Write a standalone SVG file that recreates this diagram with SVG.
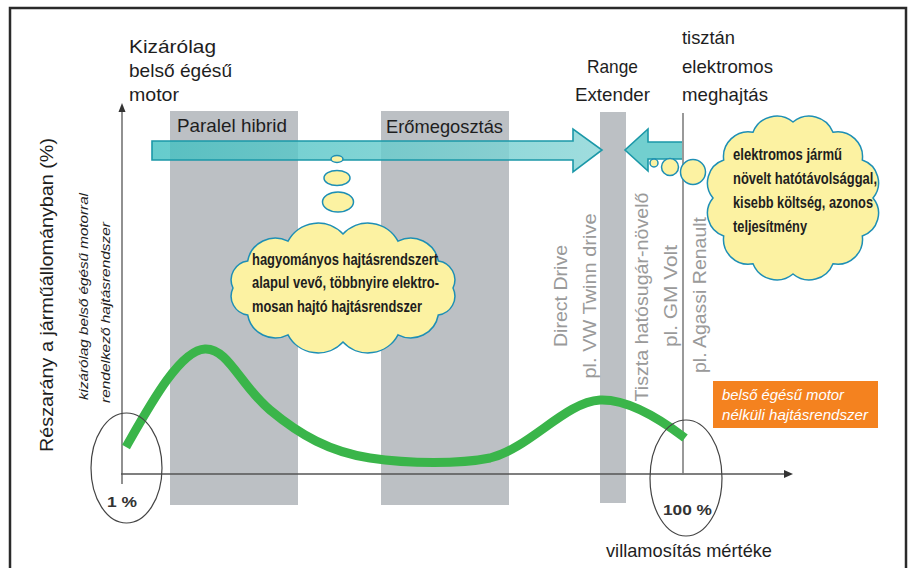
<svg xmlns="http://www.w3.org/2000/svg" width="912" height="568" viewBox="0 0 912 568">
<defs>
<style>
.lbl{font-family:"Liberation Sans",Arial,sans-serif;fill:#1e1e1e;font-size:19px}
.grey{font-family:"Liberation Sans",Arial,sans-serif;fill:#9a9a9a;font-size:19px;text-anchor:middle}
.cloudtxt{font-family:"Liberation Sans Narrow","Liberation Sans",Arial,sans-serif;fill:#1e1e1e;font-size:16px;font-weight:bold}
.ital{font-family:"Liberation Sans",Arial,sans-serif;fill:#1e1e1e;font-size:13.5px;font-style:italic}
.pct{font-family:"Liberation Sans",Arial,sans-serif;fill:#333;font-size:15px;font-weight:bold}
.band{fill:#bcc0c4}
.cloud{fill:#fcf2a2;stroke:#1e8fb5;stroke-width:1.5}
.axis{stroke:#555;stroke-width:1.3;fill:none}
.arrow{stroke:#1b98a8;stroke-width:1.6}
</style>
<linearGradient id="ag" x1="0" y1="0" x2="1" y2="0">
<stop offset="0" stop-color="#3fbfc0" stop-opacity="0.8"/>
<stop offset="1" stop-color="#8fd7d8" stop-opacity="0.85"/>
</linearGradient>
</defs>
<rect x="0" y="0" width="912" height="568" fill="#fff"/>
<rect x="10" y="8" width="896" height="580" fill="none" stroke="#2a2a2a" stroke-width="2.5"/>

<g id="bands">
<rect class="band" x="170" y="111" width="128" height="394"/>
<rect class="band" x="381" y="111" width="128" height="394"/>
<rect class="band" x="600" y="112" width="26" height="391"/>
</g>

<g id="connectors">
<line class="axis" x1="122" y1="110" x2="122" y2="484"/>
<polygon points="122,103 118.5,112 125.5,112" fill="#333"/>
<line class="axis" x1="121" y1="474" x2="786" y2="474"/>
<polygon points="793,474 784,470 784,478" fill="#333"/>
<line x1="683" y1="113" x2="683" y2="475" stroke="#777" stroke-width="1.5"/>
<polygon class="arrow" fill="url(#ag)" points="152,141 573,141 573,129 602,150 573,172 573,160 152,160"/>
<path class="arrow" fill="#72cfcf" d="M682,142 L648,142 L648,129 L625,150 L648,171 L648,159 L682,159"/>
<path d="M126,447 C150,405 180,350 205,349 C228,348 240,385 270,410 C300,435 330,452 370,458 C410,464 460,464 490,458 C530,448 565,402 600,400 C625,399 655,415 685,438" fill="none" stroke="#3ab54a" stroke-width="9"/>
</g>

<g id="title-left">
<text class="lbl" x="129" y="53" textLength="87" lengthAdjust="spacingAndGlyphs">Kizárólag</text>
<text class="lbl" x="129" y="77" textLength="103" lengthAdjust="spacingAndGlyphs">belső égésű</text>
<text class="lbl" x="129" y="101" textLength="50" lengthAdjust="spacingAndGlyphs">motor</text>
</g>
<g id="title-range">
<text class="lbl" x="587" y="73" textLength="51" lengthAdjust="spacingAndGlyphs">Range</text>
<text class="lbl" x="575" y="101" textLength="75" lengthAdjust="spacingAndGlyphs">Extender</text>
</g>
<g id="title-right">
<text class="lbl" x="682" y="44" textLength="53" lengthAdjust="spacingAndGlyphs">tisztán</text>
<text class="lbl" x="682" y="73" textLength="91" lengthAdjust="spacingAndGlyphs">elektromos</text>
<text class="lbl" x="682" y="101" textLength="86" lengthAdjust="spacingAndGlyphs">meghajtás</text>
</g>
<g id="paralel">
<text class="lbl" x="177" y="132" textLength="110" lengthAdjust="spacingAndGlyphs">Paralel hibrid</text>
</g>
<g id="eromegosztas">
<text class="lbl" x="386" y="133" textLength="117" lengthAdjust="spacingAndGlyphs">Erőmegosztás</text>
</g>

<g id="y-label">
<text class="lbl" transform="translate(53,452) rotate(-90)" textLength="314" lengthAdjust="spacingAndGlyphs">Részarány a járműállományban (%)</text>
<text class="ital" transform="translate(88,400) rotate(-90)" textLength="207" lengthAdjust="spacingAndGlyphs">kizárólag belső égésű motorral</text>
<text class="ital" transform="translate(110,403) rotate(-90)" textLength="181" lengthAdjust="spacingAndGlyphs">rendelkező hajtásrendszer</text>
</g>

<g id="direct-drive">
<text class="grey" transform="translate(567,296) rotate(-90)" textLength="102" lengthAdjust="spacingAndGlyphs">Direct Drive</text>
<text class="grey" transform="translate(596,296) rotate(-90)" textLength="165" lengthAdjust="spacingAndGlyphs">pl. VW Twinn drive</text>
</g>
<g id="tiszta">
<text class="grey" transform="translate(648,297) rotate(-90)" textLength="209" lengthAdjust="spacingAndGlyphs">Tiszta hatósugár-növelő</text>
<text class="grey" transform="translate(677,296) rotate(-90)" textLength="102" lengthAdjust="spacingAndGlyphs">pl. GM Volt</text>
</g>
<g id="agassi">
<text class="grey" transform="translate(706,295) rotate(-90)" textLength="156" lengthAdjust="spacingAndGlyphs">pl. Agassi Renault</text>
</g>

<g id="cloud-left">
<ellipse class="cloud" cx="337" cy="159" rx="6" ry="3.5"/>
<ellipse class="cloud" cx="337" cy="178" rx="13" ry="7.5"/>
<ellipse class="cloud" cx="338" cy="202" rx="15.5" ry="10"/>
<path class="cloud" d="M233,288 A19,19 0 0 1 247.7,261 A28,28 0 0 1 288,241.2 A34,34 0 0 1 343,234 A34,34 0 0 1 398,241.2 A28,28 0 0 1 438.3,261 A19,19 0 0 1 453,288 A19,19 0 0 1 438.3,315 A28,28 0 0 1 398,334.8 A34,34 0 0 1 343,342 A34,34 0 0 1 288,334.8 A28,28 0 0 1 247.7,315 A19,19 0 0 1 233,288 Z"/>
<text class="cloudtxt" x="252" y="265" textLength="186" lengthAdjust="spacingAndGlyphs">hagyományos hajtásrendszert</text>
<text class="cloudtxt" x="252" y="288" textLength="187" lengthAdjust="spacingAndGlyphs">alapul vevő, többnyire elektro-</text>
<text class="cloudtxt" x="252" y="312" textLength="170" lengthAdjust="spacingAndGlyphs">mosan hajtó hajtásrendszer</text>
</g>

<g id="cloud-right">
<circle class="cloud" cx="654" cy="163" r="4"/>
<circle class="cloud" cx="670" cy="167" r="8.5"/>
<circle class="cloud" cx="693" cy="172" r="12.5"/>
<path class="cloud" d="M713,198 A24,24 0 0 1 723.7,160 A25,25 0 0 1 753,132.2 A25.5,25.5 0 0 1 793,122 A25.5,25.5 0 0 1 833,132.2 A25,25 0 0 1 862.3,160 A24,24 0 0 1 873,198 A24,24 0 0 1 862.3,236 A25,25 0 0 1 833,263.8 A25.5,25.5 0 0 1 793,274 A25.5,25.5 0 0 1 753,263.8 A25,25 0 0 1 723.7,236 A24,24 0 0 1 713,198 Z"/>
<text class="cloudtxt" x="733" y="160" textLength="109" lengthAdjust="spacingAndGlyphs">elektromos jármű</text>
<text class="cloudtxt" x="733" y="184" textLength="144" lengthAdjust="spacingAndGlyphs">növelt hatótávolsággal,</text>
<text class="cloudtxt" x="733" y="208" textLength="140" lengthAdjust="spacingAndGlyphs">kisebb költség, azonos</text>
<text class="cloudtxt" x="733" y="232" textLength="74" lengthAdjust="spacingAndGlyphs">teljesítmény</text>
</g>

<g id="ellipse-1">
<ellipse cx="126.5" cy="468" rx="35.5" ry="55" fill="none" stroke="#444" stroke-width="1.2"/>
<text class="pct" x="107" y="507" textLength="30" lengthAdjust="spacingAndGlyphs">1 %</text>
</g>
<g id="ellipse-100">
<ellipse cx="686" cy="478" rx="36" ry="58" fill="none" stroke="#444" stroke-width="1.2"/>
<text class="pct" x="663" y="515" textLength="49" lengthAdjust="spacingAndGlyphs">100 %</text>
</g>

<g id="orange-box">
<rect x="713" y="381" width="165" height="47" fill="#f4821f"/>
<text x="722" y="400" font-family="Liberation Sans, Arial, sans-serif" font-size="14" font-style="italic" fill="#fff" textLength="122" lengthAdjust="spacingAndGlyphs">belső égésű motor</text>
<text x="722" y="420" font-family="Liberation Sans, Arial, sans-serif" font-size="14" font-style="italic" fill="#fff" textLength="146" lengthAdjust="spacingAndGlyphs">nélküli hajtásrendszer</text>
</g>

<g id="x-label">
<text class="lbl" x="606" y="557" textLength="166" lengthAdjust="spacingAndGlyphs">villamosítás mértéke</text>
</g>
</svg>
